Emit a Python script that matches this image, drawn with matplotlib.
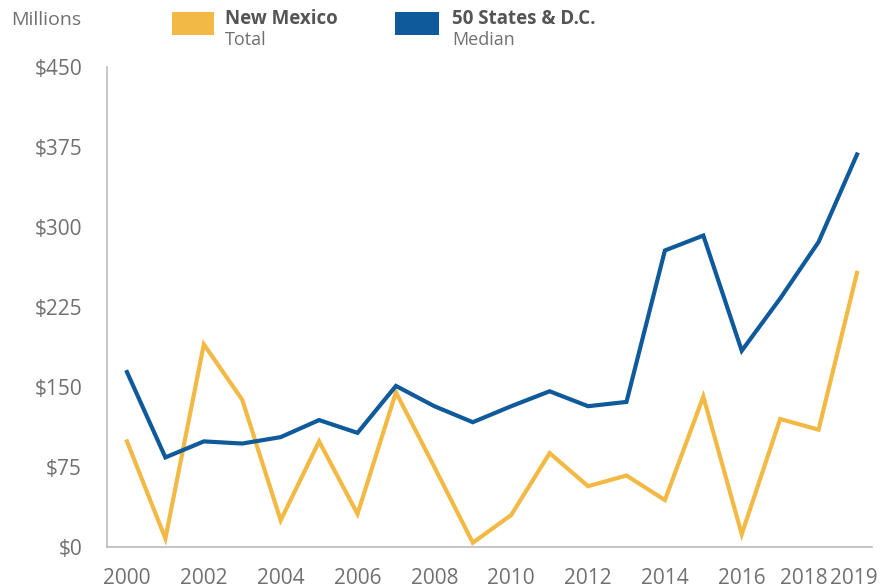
import matplotlib
matplotlib.use("Agg")
import matplotlib.pyplot as plt
import matplotlib.transforms as mtransforms

years = list(range(2000, 2020))
new_mexico = [99, 8, 190, 138, 25, 99, 31, 145, 75, 4, 30, 88, 57, 67, 44, 141, 12, 120, 110, 257]
states_median = [164, 84, 99, 97, 103, 119, 107, 151, 132, 117, 132, 146, 132, 136, 278, 292, 184, 233, 286, 368]
xtick_years = [2000, 2002, 2004, 2006, 2008, 2010, 2012, 2014, 2016, 2018, 2019]
yticks = [0, 75, 150, 225, 300, 375, 450]

YELLOW = "#F2B944"
BLUE = "#0F5A9B"
GRAY = "#707070"

plt.rcParams['font.family'] = ['Open Sans', 'DejaVu Sans']

fig = plt.figure(figsize=(8.9, 5.88), dpi=100)
W, H = 890, 588
ax = fig.add_axes([107 / W, 1 - 547 / H, (872 - 107) / W, (547 - 67) / H])

ax.plot(years, new_mexico, color=YELLOW, lw=3.0, solid_joinstyle='miter', zorder=3)
ax.plot(years, states_median, color=BLUE, lw=3.0, solid_joinstyle='miter', zorder=4)

ax.set_xlim(1999.48, 2019.39)
ax.set_ylim(0, 450)
ax.set_yticks(yticks)
ax.set_yticklabels([f"${v}" for v in yticks])
ax.set_xticks(xtick_years)
ax.set_xticklabels([str(y) for y in xtick_years])

for s in ["top", "right"]:
    ax.spines[s].set_visible(False)
for s in ["left", "bottom"]:
    ax.spines[s].set_color("#BBBBBB")
    ax.spines[s].set_linewidth(1.2)

ax.tick_params(axis="both", length=0, labelsize=15, labelcolor=GRAY)
ax.tick_params(axis="y", pad=18)
ax.tick_params(axis="x", pad=15)

# nudge crowded year labels
for lab in ax.get_xticklabels():
    if lab.get_text() == "2018":
        lab.set_transform(lab.get_transform() + mtransforms.ScaledTranslation(-15 / 100, 0, fig.dpi_scale_trans))
    if lab.get_text() == "2019":
        lab.set_transform(lab.get_transform() + mtransforms.ScaledTranslation(-3 / 100, 0, fig.dpi_scale_trans))

# header / legend
fig.text(11 / W, 1 - 20 / H, "Millions", fontsize=14, color=GRAY, va="center", ha="left")
fig.patches.append(plt.Rectangle((172 / W, 1 - 35 / H), 42 / W, 23 / H, transform=fig.transFigure,
                                 facecolor=YELLOW, edgecolor="none"))
fig.text(225 / W, 1 - 19 / H, "New Mexico", fontsize=13.5, fontweight="bold", color="#555555", va="center")
fig.text(225 / W, 1 - 40 / H, "Total", fontsize=13, color=GRAY, va="center")
fig.patches.append(plt.Rectangle((395 / W, 1 - 35 / H), 44 / W, 23 / H, transform=fig.transFigure,
                                 facecolor=BLUE, edgecolor="none"))
fig.text(452 / W, 1 - 19 / H, "50 States & D.C.", fontsize=13.5, fontweight="bold", color="#555555", va="center")
fig.text(452 / W, 1 - 40 / H, "Median", fontsize=13, color=GRAY, va="center")

fig.savefig("out.png", dpi=100)
